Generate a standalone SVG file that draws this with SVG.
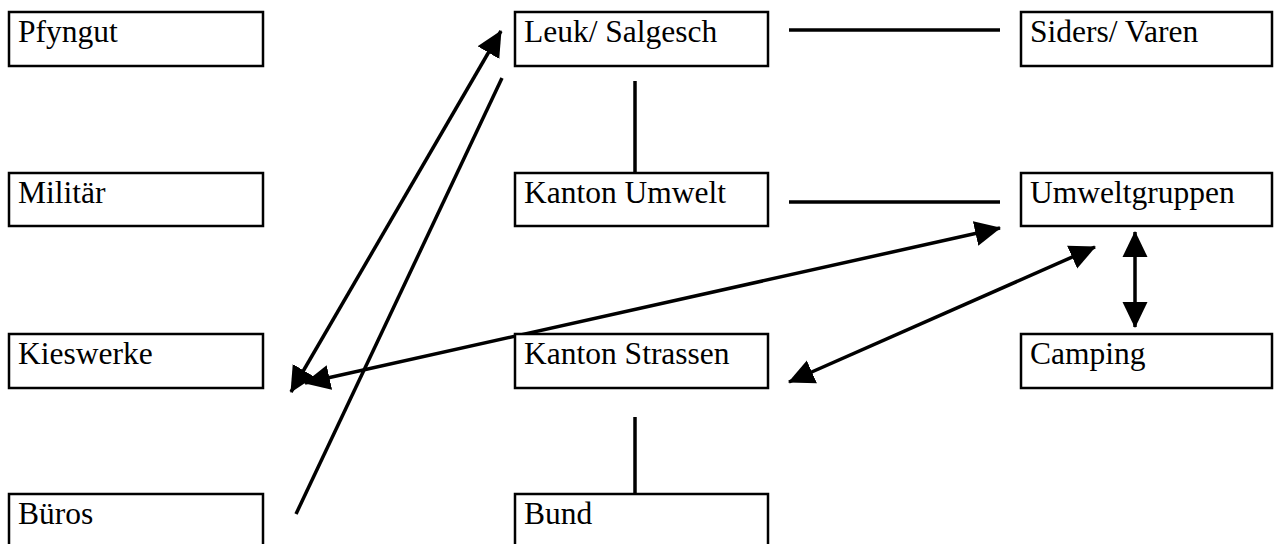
<svg xmlns="http://www.w3.org/2000/svg" width="1276" height="544" viewBox="0 0 1276 544" font-family="Liberation Serif, Times New Roman, serif">
<style>
.box{fill:#fff;stroke:#000;stroke-width:2.5}
.lbl{font-size:31.5px;fill:#000}
.c{stroke:#000;stroke-width:3.5;fill:none}
.d{marker-start:url(#ah);marker-end:url(#ah)}
</style>
<defs>
<marker id="ah" markerUnits="userSpaceOnUse" markerWidth="27" markerHeight="26" refX="25" refY="12.5" orient="auto-start-reverse" viewBox="0 0 27 25">
<path d="M0,0 L26,12.5 L0,25 z" fill="#000"/>
</marker>
</defs>
<rect width="1276" height="544" fill="#fff"/>
<g id="connectors">
<line class="c" x1="789" y1="30" x2="1000" y2="30"/>
<line class="c" x1="789" y1="202" x2="1000" y2="202"/>
<line class="c" x1="635" y1="81" x2="635" y2="174"/>
<line class="c" x1="635" y1="417" x2="635" y2="494"/>
<line class="c" x1="502" y1="78" x2="296" y2="514"/>
<line class="c d" x1="501" y1="31" x2="291" y2="392"/>
<line class="c d" x1="305" y1="383" x2="1000" y2="228"/>
<line class="c d" x1="789" y1="382" x2="1095" y2="247"/>
<line class="c d" x1="1135" y1="232" x2="1135" y2="327"/>
</g>
<g id="pfyngut"><rect class="box" x="9" y="12" width="254" height="54"/><text class="lbl" font-family="Liberation Serif, serif" x="18" y="42">Pfyngut</text></g>
<g id="leuk"><rect class="box" x="515" y="12" width="253" height="54"/><text class="lbl" font-family="Liberation Serif, serif" x="524" y="42">Leuk/ Salgesch</text></g>
<g id="siders"><rect class="box" x="1021" y="12" width="251" height="54"/><text class="lbl" font-family="Liberation Serif, serif" x="1030" y="42">Siders/ Varen</text></g>
<g id="militaer"><rect class="box" x="9" y="173" width="254" height="53"/><text class="lbl" font-family="Liberation Serif, serif" x="18" y="203">Militär</text></g>
<g id="kanton-umwelt"><rect class="box" x="515" y="173" width="253" height="53"/><text class="lbl" font-family="Liberation Serif, serif" x="524" y="203">Kanton Umwelt</text></g>
<g id="umweltgruppen"><rect class="box" x="1021" y="173" width="251" height="53"/><text class="lbl" font-family="Liberation Serif, serif" x="1030" y="203">Umweltgruppen</text></g>
<g id="kieswerke"><rect class="box" x="9" y="334" width="254" height="54"/><text class="lbl" font-family="Liberation Serif, serif" x="18" y="364">Kieswerke</text></g>
<g id="kanton-strassen"><rect class="box" x="515" y="334" width="253" height="54"/><text class="lbl" font-family="Liberation Serif, serif" x="524" y="364">Kanton Strassen</text></g>
<g id="camping"><rect class="box" x="1021" y="334" width="251" height="54"/><text class="lbl" font-family="Liberation Serif, serif" x="1030" y="364">Camping</text></g>
<g id="bueros"><rect class="box" x="9" y="494" width="254" height="60"/><text class="lbl" font-family="Liberation Serif, serif" x="18" y="524">Büros</text></g>
<g id="bund"><rect class="box" x="515" y="494" width="253" height="60"/><text class="lbl" font-family="Liberation Serif, serif" x="524" y="524">Bund</text></g>
</svg>
